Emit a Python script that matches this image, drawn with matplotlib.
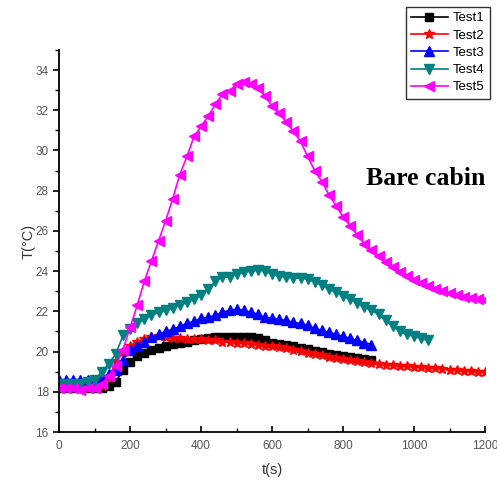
import numpy as np
import matplotlib.pyplot as plt
from matplotlib.ticker import MultipleLocator

# Temperature readings, sampled every 20 s
t_long = np.arange(0, 1201, 20)
t_test1 = np.arange(0, 881, 20)
t_test3 = np.arange(0, 881, 20)
t_test4 = np.arange(0, 1041, 20)

test1 = [18.2, 18.2, 18.2, 18.2, 18.2, 18.2, 18.2, 18.3, 18.5, 19.1,
         19.5, 19.8, 19.95, 20.1, 20.2, 20.3, 20.4, 20.45, 20.5, 20.55,
         20.6, 20.65, 20.7, 20.7, 20.7, 20.7, 20.7, 20.7, 20.65, 20.55,
         20.45, 20.4, 20.35, 20.3, 20.2, 20.15, 20.05, 20.0, 19.9, 19.85,
         19.8, 19.75, 19.7, 19.65, 19.6]

test2 = [18.2, 18.2, 18.2, 18.2, 18.2, 18.2, 18.3, 18.7, 19.5, 20.0,
         20.3, 20.5, 20.6, 20.7, 20.75, 20.7, 20.65, 20.65, 20.6, 20.6,
         20.6, 20.55, 20.55, 20.5, 20.5, 20.45, 20.45, 20.4, 20.35, 20.3,
         20.3, 20.25, 20.2, 20.1, 20.05, 19.95, 19.9, 19.85, 19.75, 19.7,
         19.65, 19.6, 19.55, 19.5, 19.45, 19.4, 19.35, 19.35, 19.3, 19.3,
         19.25, 19.25, 19.2, 19.2, 19.15, 19.1, 19.1, 19.05, 19.05, 19.0,
         19.0]

test3 = [18.6, 18.6, 18.6, 18.6, 18.6, 18.6, 18.7, 18.9, 19.1, 19.6,
         20.1, 20.3, 20.5, 20.7, 20.85, 21.0, 21.1, 21.25, 21.4, 21.5,
         21.65, 21.7, 21.8, 21.95, 22.05, 22.1, 22.05, 21.95, 21.85, 21.7,
         21.65, 21.6, 21.55, 21.45, 21.4, 21.3, 21.15, 21.05, 20.95, 20.85,
         20.75, 20.65, 20.55, 20.45, 20.35]

test4 = [18.4, 18.4, 18.4, 18.4, 18.5, 18.6, 19.0, 19.4, 19.9, 20.8,
         21.1, 21.4, 21.6, 21.8, 21.95, 22.05, 22.15, 22.3, 22.45, 22.6,
         22.8, 23.1, 23.5, 23.7, 23.7, 23.85, 23.95, 24.0, 24.05, 24.0,
         23.85, 23.75, 23.7, 23.65, 23.65, 23.6, 23.45, 23.3, 23.1, 22.95,
         22.75, 22.6, 22.4, 22.2, 22.05, 21.85, 21.55, 21.25, 21.0, 20.85,
         20.75, 20.65, 20.55]

test5 = [18.2, 18.2, 18.2, 18.1, 18.2, 18.2, 18.4, 18.8, 19.3, 20.1,
         21.2, 22.3, 23.5, 24.5, 25.5, 26.5, 27.6, 28.8, 29.7, 30.7,
         31.2, 31.7, 32.3, 32.8, 32.95, 33.3, 33.4, 33.3, 33.1, 32.7,
         32.2, 31.85, 31.4, 30.95, 30.45, 29.7, 29.0, 28.45, 27.8, 27.25,
         26.7, 26.25, 25.8, 25.35, 25.05, 24.75, 24.45, 24.2, 23.95, 23.75,
         23.55, 23.4, 23.25, 23.1, 23.0, 22.9, 22.8, 22.72, 22.65, 22.6,
         22.55]

plt.rcParams['font.family'] = ['Liberation Sans', 'DejaVu Sans']

fig = plt.figure(figsize=(4.97, 4.94), dpi=100)
ax = fig.add_axes([0.119, 0.1255, 0.857, 0.7735])

ms = 5.5
ax.plot(t_test1, test1, color='black', marker='s', ms=ms, lw=1.2, label='Test1')
ax.plot(t_long, test2, color='red', marker='*', ms=ms + 2, lw=1.2, label='Test2')
ax.plot(t_test3, test3, color='blue', marker='^', ms=ms + 1, lw=1.2, label='Test3')
ax.plot(t_test4, test4, color='#008080', marker='v', ms=ms + 1, lw=1.2, label='Test4')
ax.plot(t_long, test5, color='magenta', marker='<', ms=ms + 1, lw=1.2, label='Test5')

ax.set_xlim(0, 1200)
ax.set_ylim(16, 35)
ax.xaxis.set_major_locator(MultipleLocator(200))
ax.xaxis.set_minor_locator(MultipleLocator(100))
ax.yaxis.set_minor_locator(MultipleLocator(1))
ax.set_yticks(np.arange(16, 35, 2))

ax.spines['top'].set_visible(False)
ax.spines['right'].set_visible(False)
ax.spines['left'].set_linewidth(1.3)
ax.spines['bottom'].set_linewidth(1.3)

ax.tick_params(axis='x', which='both', direction='in', labelsize=8.5,
               labelcolor='#555555', pad=6)
ax.tick_params(axis='y', which='both', direction='out', labelsize=8.5,
               labelcolor='#555555')
ax.tick_params(which='major', length=4, width=1.2)
ax.tick_params(which='minor', length=3, width=1.0)

ax.set_xlabel('t(s)', fontsize=10.5, color='#333333', labelpad=8)
ax.set_ylabel('T(°C)', fontsize=10.5, color='#333333', labelpad=0)

ax.text(1200, 28.6, 'Bare cabin', ha='right', va='center',
        fontsize=18.5, fontweight='bold', family='Liberation Serif')

leg = fig.legend(loc='upper right', bbox_to_anchor=(0.986, 0.986),
                 fontsize=9.5, frameon=True, fancybox=False,
                 edgecolor='black', handlelength=2.8, borderpad=0.4,
                 labelspacing=0.38, handletextpad=0.4, borderaxespad=0)
leg.get_frame().set_linewidth(1.0)

fig.savefig('out.png', dpi=100)
